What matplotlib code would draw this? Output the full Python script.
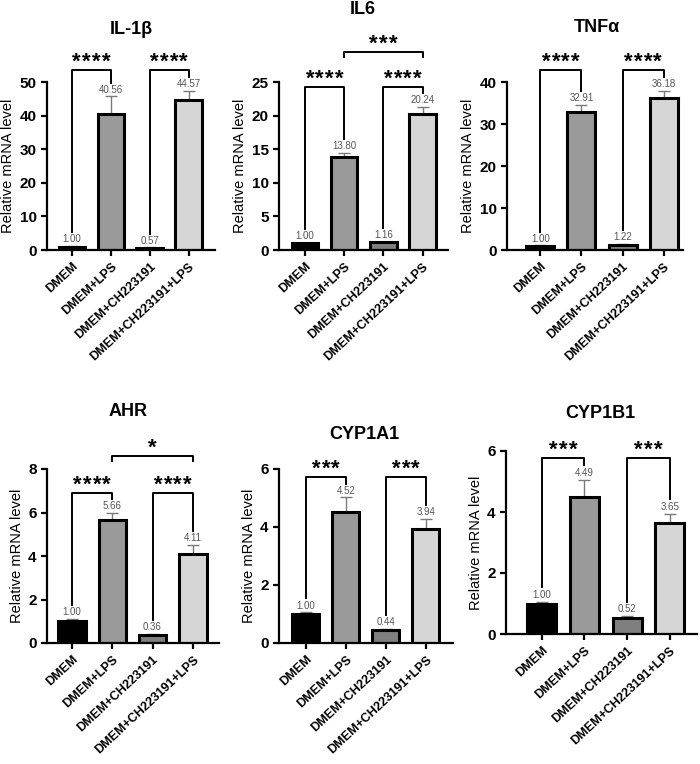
import matplotlib
matplotlib.use("Agg")
import matplotlib.pyplot as plt

plt.rcParams['font.family'] = ['Liberation Sans', 'DejaVu Sans']

groups = ["DMEM", "DMEM+LPS", "DMEM+CH223191", "DMEM+CH223191+LPS"]
bar_colors = ["#000000", "#9a9a9a", "#7f7f7f", "#d6d6d6"]

genes = ["IL-1β", "IL6", "TNFα", "AHR", "CYP1A1", "CYP1B1"]

il1b_mean = [1.00, 40.56, 0.57, 44.57]
il1b_err = [0.3, 5.2, 0.2, 2.8]
il6_mean = [1.00, 13.80, 1.16, 20.24]
il6_err = [0.1, 0.7, 0.1, 1.1]
tnfa_mean = [1.00, 32.91, 1.22, 36.18]
tnfa_err = [0.1, 1.7, 0.3, 1.7]
ahr_mean = [1.00, 5.66, 0.36, 4.11]
ahr_err = [0.12, 0.32, 0.05, 0.40]
cyp1a1_mean = [1.00, 4.52, 0.44, 3.94]
cyp1a1_err = [0.06, 0.50, 0.05, 0.33]
cyp1b1_mean = [1.00, 4.49, 0.52, 3.65]
cyp1b1_err = [0.05, 0.56, 0.06, 0.30]

y_max = [50, 25, 40, 8, 6, 6]
y_ticks = [[0, 10, 20, 30, 40, 50], [0, 5, 10, 15, 20, 25], [0, 10, 20, 30, 40],
           [0, 2, 4, 6, 8], [0, 2, 4, 6], [0, 2, 4, 6]]

# brackets: (bar a, bar b, line height, stars)
il1b_sig = [(0, 1, 53.6, "****"), (2, 3, 53.6, "****")]
il6_sig = [(0, 1, 24.3, "****"), (2, 3, 24.3, "****"), (1, 3, 29.5, "***")]
tnfa_sig = [(0, 1, 42.8, "****"), (2, 3, 42.8, "****")]
ahr_sig = [(0, 1, 6.9, "****"), (2, 3, 6.9, "****"), (1, 3, 8.6, "*")]
cyp1a1_sig = [(0, 1, 5.73, "***"), (2, 3, 5.73, "***")]
cyp1b1_sig = [(0, 1, 5.77, "***"), (2, 3, 5.77, "***")]

means = [il1b_mean, il6_mean, tnfa_mean, ahr_mean, cyp1a1_mean, cyp1b1_mean]
errs = [il1b_err, il6_err, tnfa_err, ahr_err, cyp1a1_err, cyp1b1_err]
sigs = [il1b_sig, il6_sig, tnfa_sig, ahr_sig, cyp1a1_sig, cyp1b1_sig]

W, H = 700, 764
# axes boxes in pixels: left, right, top, bottom
boxes = [(47, 215, 82, 250), (279, 448, 82, 250), (507, 683, 82, 250),
         (47, 219, 469, 643), (279, 453, 469, 643), (506, 697, 451, 634)]
xlims = [(-0.64, 3.68), (-0.66, 3.65), (-0.81, 3.47),
         (-0.62, 3.65), (-0.67, 3.68), (-0.84, 3.64)]
title_pos = [(131, 30), (363, 10), (597, 28), (128, 412), (364, 435), (600, 413)]

fig = plt.figure(figsize=(W / 100, H / 100), dpi=100)

for i in range(6):
    l, r, t, b = boxes[i]
    ax = fig.add_axes([l / W, 1 - b / H, (r - l) / W, (b - t) / H])
    ym = y_max[i]
    x = range(4)
    ax.bar(x, means[i], width=0.68, color=bar_colors, edgecolor="black",
           linewidth=2.2, zorder=2)
    ax.errorbar(x, means[i], yerr=[[0] * 4, errs[i]], fmt="none",
                ecolor="#7a7a7a", elinewidth=1, capsize=4, capthick=1, zorder=1)
    for j in range(4):
        ax.text(j, means[i][j] + errs[i][j] + ym * 0.01, "%.2f" % means[i][j],
                ha="center", va="bottom", fontsize=7, color="#555555")

    pad = ym * 0.08
    for a, bb, h, stars in sigs[i]:
        if a == 1 and bb == 3:
            ya = yb = h - ym * 0.03
        else:
            ya = means[i][a] + errs[i][a] + pad
            yb = means[i][bb] + errs[i][bb] + pad
        ax.plot([a, a, bb, bb], [ya, h, h, yb], color="black", lw=1.4,
                clip_on=False, zorder=3)
        n = len(stars)
        for k in range(n):
            ax.annotate("*", xy=((a + bb) / 2, h), xytext=((k - (n - 1) / 2) * 7, -2),
                        textcoords="offset points", ha="center", va="bottom",
                        fontsize=16, fontweight="bold", annotation_clip=False)

    ax.set_xlim(*xlims[i])
    ax.set_ylim(0, ym)
    ax.set_yticks(y_ticks[i])
    ax.set_xticks(list(x))
    ax.set_xticklabels(groups, rotation=43, ha="right", rotation_mode="anchor",
                       fontsize=9, fontweight="bold")
    for lab in ax.get_yticklabels():
        lab.set_fontweight("bold")
        lab.set_fontsize(11)
    ax.set_ylabel("Relative mRNA level", fontsize=10.5, labelpad=3)
    for s in ["top", "right"]:
        ax.spines[s].set_visible(False)
    for s in ["left", "bottom"]:
        ax.spines[s].set_linewidth(1.6)
    ax.tick_params(width=1.6, length=4)

    tx, ty = title_pos[i]
    fig.text(tx / W, 1 - ty / H, genes[i], ha="center", va="center",
             fontsize=13, fontweight="bold")

fig.savefig("out.png", dpi=100)
